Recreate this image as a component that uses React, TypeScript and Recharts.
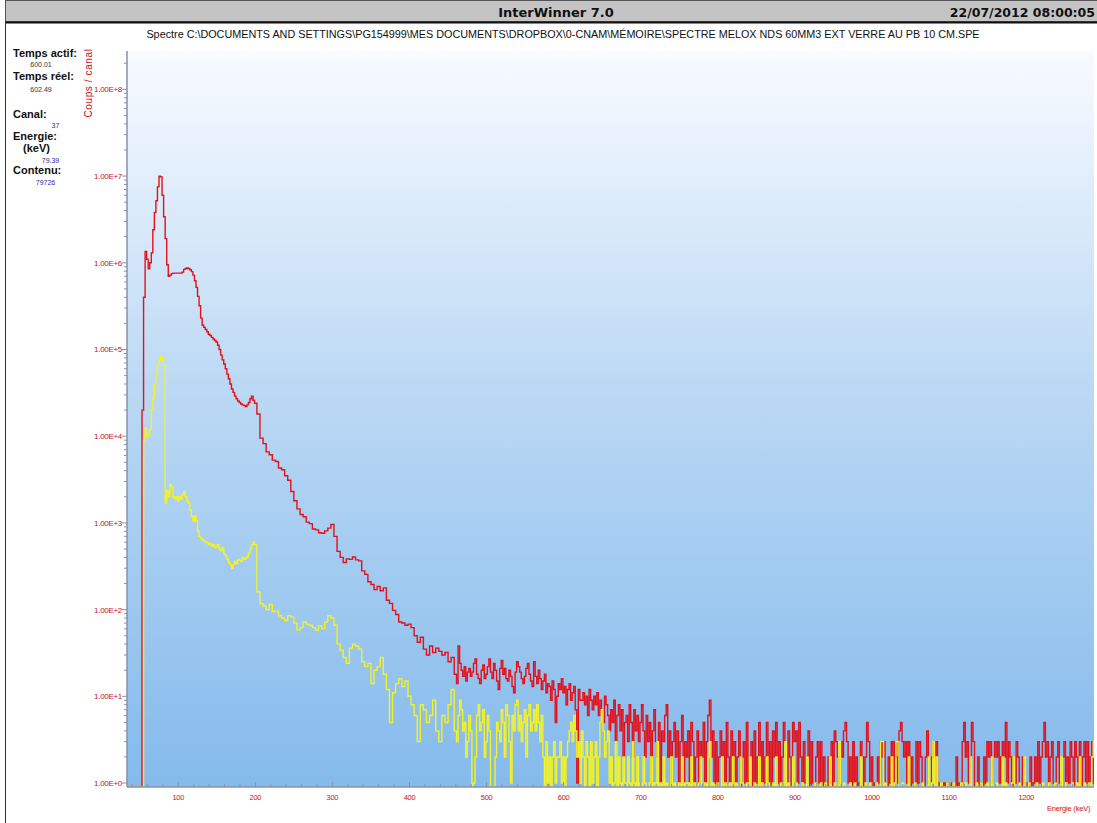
import React from 'react'
import { LineChart, Line, XAxis, YAxis, CartesianGrid } from 'recharts'

// Spectrum in three pieces: fine steps round the low-energy peaks,
// 4 keV steps on the falling slope, 2 keV steps in the noisy tail.
const LOW_START_KEV = 34
const LOW_STEP_KEV = 2
const MID_START_KEV = 204
const MID_STEP_KEV = 4
const TAIL_START_KEV = 462
const TAIL_STEP_KEV = 2

// Coups / canal, 34 -> 200 keV
const redLow = [
  0, 0, 0, 0, 0, 0, 0, 0, 0, 0,
  20000, 400000, 1350000, 1100000, 850000, 1000000, 1300000, 2400000, 3800000, 5200000,
  7500000, 10000000, 9800000, 6000000, 3400000, 1900000, 950000, 700000, 720000, 750000,
  760000, 760000, 760000, 760000, 760000, 760000, 780000, 840000, 860000, 870000,
  860000, 830000, 790000, 720000, 620000, 520000, 410000, 320000, 230000, 190000,
  180000, 170000, 160000, 150000, 145000, 138000, 132000, 127000, 122000, 112000,
  100000, 86000, 76000, 68000, 60000, 52000, 46000, 40000, 35000, 32000,
  29000, 27000, 25500, 24500, 23500, 23000, 22500, 22000, 23000, 24500,
  27000, 29000, 26000, 24000,
]
const yellowLow = [
  0, 0, 0, 0, 0, 0, 0, 0, 0, 0,
  0, 9000, 12500, 10000, 10500, 12000, 20000, 28000, 40000, 55000,
  65000, 75000, 83000, 75000, 65000, 1700, 2400, 2000, 2800, 2600,
  2000, 1900, 2000, 1800, 2000, 1900, 2100, 2300, 2000, 1800,
  1700, 1400, 1200, 1050, 1200, 1050, 800, 700, 660, 640,
  620, 600, 590, 560, 580, 540, 560, 520, 530, 560,
  500, 480, 520, 440, 420, 380, 350, 330, 300, 330,
  360, 340, 380, 370, 360, 400, 380, 390, 410, 450,
  500, 560, 600, 560,
]

// Coups / canal, 204 -> 460 keV
const redMid = [
  18000, 9500, 8200, 6600, 6100, 5300, 5100, 4300, 4100, 3500, 3100, 2300, 1800, 1450, 1250, 1180, 1020, 980, 850, 830, 770, 760, 810, 870, 960,
  700, 470, 400, 350, 385, 380, 405, 375, 365, 280, 255, 210, 195, 170, 185, 165, 178, 128, 118, 98, 88, 72, 70, 66, 68,
  62, 50, 42, 48, 35, 30, 38, 32, 36, 33, 30, 32, 25, 28, 18,
]
const yellowMid = [
  160, 117, 110, 100, 115, 95, 96, 85, 80, 75, 85, 82, 70, 58, 62, 72, 68, 66, 62, 58, 65, 60, 72, 85, 80,
  66, 40, 34, 28, 24, 36, 40, 38, 35, 25, 22, 24, 14, 20, 22, 28, 18, 12, 5, 11, 14, 16, 13, 15, 10,
  8, 6, 3, 8, 7, 5, 6, 9, 4, 3, 6, 5, 8, 12, 4,
]

// Coups / canal, 462 -> 1288 keV, one row per 100 keV
const redTail = [
  14, 38, 24, 20, 17, 22, 15, 19, 21, 17, 19, 24, 27, 18, 16, 14, 20, 23, 16, 18, 22, 27, 19, 16, 24, 20, 15, 12, 21, 26, 18, 21, 16, 15, 20, 17, 13, 11, 19, 25, 22, 19, 16, 14, 17, 21, 24, 18, 15, 13,
  25, 17, 14, 20, 16, 12, 15, 18, 11, 14, 13, 9, 15, 12, 5, 10, 14, 12, 16, 11, 13, 8, 12, 14, 9, 11, 13, 7, 1, 12, 9, 9, 11, 8, 10, 6, 12, 9, 7, 10, 8, 11, 6, 9, 7, 5, 10, 8, 6, 4,
  7, 5, 9, 3, 6, 8, 4, 7, 2, 5, 6, 3, 8, 5, 2, 7, 4, 6, 3, 5, 8, 4, 2, 6, 3, 5, 1, 4, 7, 3, 2, 5, 1, 4, 3, 6, 8, 2, 4, 1, 3, 5, 2, 4, 0, 3, 6, 1, 3, 2,
  4, 1, 5, 3, 0, 2, 4, 1, 3, 2, 5, 0, 3, 6, 9, 2, 4, 1, 3, 0, 2, 4, 1, 3, 0, 5, 2, 1, 4, 0, 3, 1, 2, 4, 0, 2, 3, 1, 5, 0, 2, 3, 0, 4, 1, 2, 5, 0, 3, 1,
  2, 5, 1, 3, 0, 4, 2, 5, 1, 3, 0, 2, 5, 3, 1, 4, 2, 0, 5, 3, 4, 1, 5, 2, 0, 3, 1, 2, 4, 0, 3, 1, 0, 2, 3, 1, 3, 0, 2, 1, 0, 2, 1, 3, 0, 4, 3, 2, 1, 3,
  2, 4, 5, 3, 1, 2, 0, 3, 1, 2, 0, 1, 3, 2, 0, 2, 5, 3, 1, 2, 0, 1, 0, 2, 1, 3, 2, 3, 1, 0, 2, 1, 3, 0, 3, 2, 1, 4, 5, 3, 2, 3, 1, 3, 0, 2, 1, 0, 3, 1,
  3, 2, 1, 0, 2, 4, 1, 0, 2, 3, 1, 3, 0, 1, 0, 0, 1, 0, 1, 0, 0, 1, 0, 0, 2, 0, 1, 0, 3, 5, 2, 3, 1, 2, 5, 3, 0, 1, 2, 0, 1, 0, 2, 1, 3, 2, 3, 1, 2, 3,
  2, 3, 1, 2, 3, 2, 5, 1, 3, 2, 0, 2, 1, 3, 2, 1, 0, 2, 1, 0, 1, 0, 2, 0, 1, 2, 0, 3, 1, 2, 3, 5, 2, 3, 0, 2, 3, 1, 0, 2, 3, 1, 0, 2, 3, 0, 2, 1, 3, 2,
  0, 3, 2, 1, 3, 0, 2, 3, 1, 3, 0, 2, 3, 1,
]
const yellowTail = [
  3, 6, 9, 7, 4, 5, 2, 3, 6, 4, 0, 1, 2, 6, 8, 4, 5, 7, 2, 3, 6, 4, 0, 0, 0, 2, 5, 4, 3, 7, 5, 2, 8, 6, 3, 1, 6, 4, 8, 9, 4, 6, 3, 5, 7, 2, 6, 8, 4, 5,
  7, 4, 8, 5, 3, 6, 2, 0, 3, 1, 2, 0, 2, 3, 1, 2, 2, 3, 1, 2, 0, 2, 3, 4, 5, 3, 6, 4, 2, 3, 1, 4, 2, 0, 3, 2, 0, 3, 1, 2, 3, 0, 2, 5, 7, 4, 2, 3, 4, 1,
  2, 0, 1, 3, 0, 2, 1, 0, 2, 1, 0, 2, 1, 0, 3, 1, 0, 2, 0, 1, 0, 2, 1, 0, 0, 1, 2, 0, 1, 0, 3, 0, 1, 0, 2, 0, 1, 0, 0, 2, 0, 1, 0, 0, 1, 0, 2, 0, 1, 0,
  1, 0, 2, 0, 1, 0, 0, 1, 2, 0, 0, 1, 0, 2, 3, 0, 1, 0, 0, 1, 0, 0, 2, 0, 1, 0, 0, 1, 0, 2, 0, 1, 0, 0, 2, 1, 0, 0, 1, 0, 2, 0, 0, 1, 0, 0, 2, 0, 1, 0,
  0, 2, 1, 0, 0, 1, 0, 2, 0, 0, 1, 0, 0, 3, 0, 1, 0, 0, 2, 0, 1, 0, 0, 0, 1, 0, 0, 2, 0, 0, 0, 0, 1, 0, 0, 0, 1, 0, 0, 1, 0, 0, 2, 0, 0, 1, 0, 0, 3, 0,
  0, 1, 0, 0, 0, 1, 0, 0, 1, 0, 0, 0, 2, 0, 0, 1, 0, 0, 1, 0, 0, 0, 1, 0, 0, 3, 3, 0, 1, 0, 0, 0, 2, 0, 1, 3, 3, 0, 0, 1, 0, 0, 0, 2, 0, 0, 0, 1, 0, 0,
  0, 0, 1, 0, 0, 0, 2, 0, 1, 3, 0, 2, 0, 0, 1, 0, 0, 0, 1, 0, 0, 0, 1, 0, 0, 0, 0, 1, 0, 0, 1, 0, 0, 2, 0, 0, 0, 1, 0, 0, 1, 0, 0, 0, 1, 0, 0, 2, 0, 0,
  1, 0, 0, 0, 2, 0, 1, 0, 0, 0, 1, 2, 0, 0, 0, 1, 0, 0, 2, 0, 0, 1, 0, 0, 0, 0, 1, 0, 0, 0, 1, 0, 0, 0, 1, 0, 0, 0, 1, 0, 0, 0, 2, 0, 0, 1, 0, 0, 0, 1,
  0, 0, 1, 0, 2, 0, 0, 1, 0, 0, 1, 0, 2, 3,
]

const yDecades = [1, 10, 100, 1000, 10000, 100000, 1000000, 10000000, 100000000]
const xLabels = [100, 200, 300, 400, 500, 600, 700, 800, 900, 1000, 1100, 1200]

const X_MIN = 33.5
const X_MAX = 1288
const Y_MIN = 0.9 // empty channels sit on the floor of the log axis
const Y_MAX = 2.77e8

const RED = '#e2121c'
const YELLOW = '#f2f226'
const LABEL = '#c8101a'
const AXIS = '#8792a8'

type Row = { e: number; red: number; yellow: number }
const rows: Row[] = []
const pieces = [
  { start: LOW_START_KEV, step: LOW_STEP_KEV, red: redLow, yellow: yellowLow },
  { start: MID_START_KEV, step: MID_STEP_KEV, red: redMid, yellow: yellowMid },
  { start: TAIL_START_KEV, step: TAIL_STEP_KEV, red: redTail, yellow: yellowTail },
]
pieces.forEach(({ start, step, red, yellow }) => {
  red.forEach((v, i) => {
    rows.push({ e: start + i * step, red: Math.max(v, Y_MIN), yellow: Math.max(yellow[i] ?? 0, Y_MIN) })
  })
})

// minor ticks: 2..9 per decade, every 20 keV
const yTicks: number[] = []
yDecades.forEach((d) => {
  for (let k = 1; k <= 9; k++) if (k * d < Y_MAX) yTicks.push(k * d)
})
const xTicks: number[] = []
for (let e = 40; e <= 1280; e += 20) xTicks.push(e)

const isDecade = (v: number) => yDecades.includes(v)
const tickFont = 'Liberation Sans, Arial, sans-serif'

const LeftTick = (p: any) => {
  const { x, y, payload } = p
  const major = isDecade(payload.value)
  return (
    <g>
      <line x1={x - (major ? 5 : 3)} x2={x} y1={y} y2={y} stroke={AXIS} />
      {major && (
        <text x={x - 5} y={y + 3} textAnchor="end" fontSize={8} letterSpacing={-0.3} fill={LABEL} fontFamily={tickFont}>
          {`1.00E+${Math.round(Math.log10(payload.value))}`}
        </text>
      )}
    </g>
  )
}

const RightTick = (p: any) => {
  const { x, y, payload } = p
  const major = isDecade(payload.value)
  return <line x1={x - (major ? 6 : 3)} x2={x} y1={y} y2={y} stroke={AXIS} />
}

const BottomTick = (p: any) => {
  const { x, y, payload } = p
  const major = xLabels.includes(payload.value)
  return (
    <g>
      <line x1={x} x2={x} y1={y} y2={y - (major ? 5 : 3)} stroke={AXIS} />
      {major && (
        <text x={x} y={y + 13} textAnchor="middle" fontSize={7.5} letterSpacing={-0.3} fill={LABEL} fontFamily={tickFont}>
          {payload.value}
        </text>
      )}
    </g>
  )
}

const TopTick = (p: any) => {
  const { x, y, payload } = p
  const major = xLabels.includes(payload.value)
  return <line x1={x} x2={x} y1={y} y2={y + (major ? 5 : 2)} stroke="#9a9a9a" />
}

const font = 'Liberation Sans, Arial, sans-serif'
const boldFont = 'DejaVu Sans, Verdana, sans-serif'

export default function App() {
  return (
    <div style={{ position: 'absolute', left: 0, top: 0, width: 1097, height: 823, background: '#fff', overflow: 'hidden' }}>
      <div style={{ position: 'absolute', left: 0, top: 0 }}>
        <LineChart width={1097} height={823} data={rows} margin={{ top: 51, right: 3, bottom: 10, left: 0 }}>
          <defs>
            <linearGradient id="plotBg" x1="0" y1="0" x2="0" y2="1">
              <stop offset="0%" stopColor="#f8fbff" />
              <stop offset="45%" stopColor="#bcd9f4" />
              <stop offset="100%" stopColor="#84baec" />
            </linearGradient>
          </defs>
          <CartesianGrid horizontal={false} vertical={false} fill="url(#plotBg)" stroke="none" />
          <XAxis
            dataKey="e"
            type="number"
            domain={[X_MIN, X_MAX]}
            allowDataOverflow
            ticks={xTicks}
            interval={0}
            height={26}
            tickSize={0}
            tickMargin={0}
            tickLine={false}
            axisLine={{ stroke: AXIS, strokeWidth: 1.5 }}
            tick={BottomTick}
          />
          <XAxis
            xAxisId="top"
            orientation="top"
            dataKey="e"
            type="number"
            domain={[X_MIN, X_MAX]}
            allowDataOverflow
            ticks={xTicks}
            interval={0}
            height={0}
            tickSize={0}
            tickMargin={0}
            tickLine={false}
            axisLine={{ stroke: '#9a9a9a' }}
            tick={TopTick}
          />
          <YAxis
            scale="log"
            type="number"
            domain={[Y_MIN, Y_MAX]}
            allowDataOverflow
            ticks={yTicks}
            interval={0}
            width={127}
            tickSize={0}
            tickMargin={0}
            tickLine={false}
            axisLine={{ stroke: AXIS, strokeWidth: 1.5 }}
            tick={LeftTick}
          />
          <YAxis
            yAxisId="right"
            orientation="right"
            scale="log"
            type="number"
            domain={[Y_MIN, Y_MAX]}
            allowDataOverflow
            ticks={yTicks}
            interval={0}
            width={0}
            tickSize={0}
            tickMargin={0}
            tickLine={false}
            axisLine={false}
            tick={RightTick}
          />
          <Line dataKey="red" type="step" stroke={RED} strokeWidth={1.4} dot={false} isAnimationActive={false} />
          <Line dataKey="yellow" type="step" stroke={YELLOW} strokeWidth={1.4} dot={false} isAnimationActive={false} />
        </LineChart>
      </div>
      <svg width={1097} height={823} style={{ position: 'absolute', left: 0, top: 0, pointerEvents: 'none' }} fontFamily={font}>
        <rect x={5.5} y={0.5} width={1092} height={21} fill="#c4c4c4" stroke="#555" />
        <line x1={5} x2={1097} y1={22.5} y2={22.5} stroke="#111" strokeWidth={2} />
        <line x1={5.5} x2={5.5} y1={22} y2={823} stroke="#333" />
        <text x={556} y={17} textAnchor="middle" fontSize={13} fontWeight="bold" fontFamily={boldFont} fill="#111">InterWinner 7.0</text>
        <text x={1095} y={17} textAnchor="end" fontSize={12.5} fontWeight="bold" fontFamily={boldFont} fill="#111">22/07/2012 08:00:05</text>
        <text x={563} y={38} textAnchor="middle" fontSize={10.8} fill="#111">
          {'Spectre C:\\DOCUMENTS AND SETTINGS\\PG154999\\MES DOCUMENTS\\DROPBOX\\0-CNAM\\MÉMOIRE\\SPECTRE MELOX NDS 60MM3 EXT VERRE AU PB 10 CM.SPE'}
        </text>

        <g fontSize={11} fontWeight="bold" fill="#111">
          <text x={13} y={57}>Temps actif:</text>
          <text x={13} y={80}>Temps réel:</text>
          <text x={13} y={118}>Canal:</text>
          <text x={13} y={140}>Energie:</text>
          <text x={23} y={152}>(keV)</text>
          <text x={13} y={174}>Contenu:</text>
        </g>
        <g fontSize={7} textAnchor="middle">
          <text x={41} y={67} fill="#333">600.01</text>
          <text x={41} y={92} fill="#333">602.49</text>
          <text x={55.5} y={128} fill="#2b2ba0">37</text>
          <text x={50.5} y={163} fill="#2b2ba0">79.39</text>
          <text x={45.5} y={185} fill="#2b2ba0">79726</text>
        </g>
        <text transform="translate(91.5 83) rotate(-90)" textAnchor="middle" fontSize={10} letterSpacing={0.6} fill={LABEL}>Coups / canal</text>
        <text x={1047} y={811} fontSize={7.5} letterSpacing={-0.2} fill={LABEL}>Energie (keV)</text>
      </svg>
    </div>
  )
}
